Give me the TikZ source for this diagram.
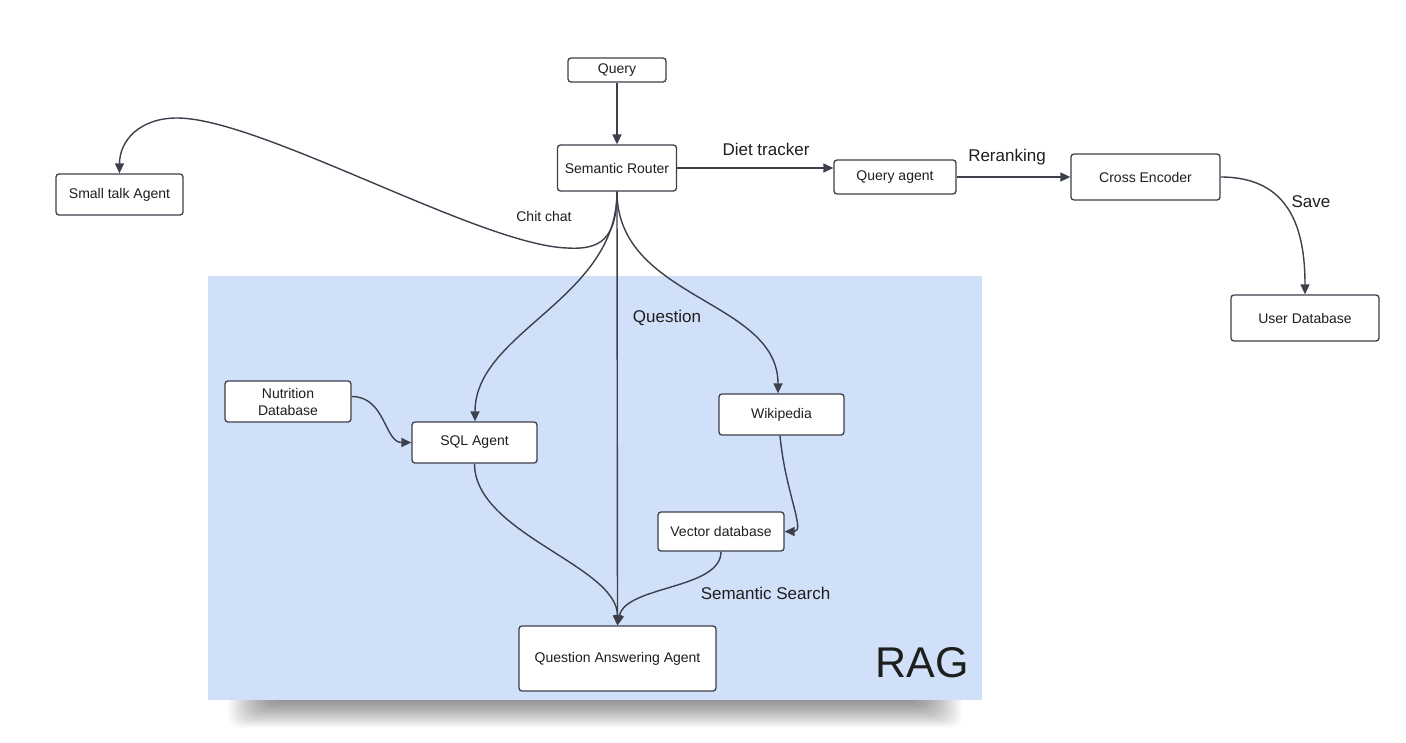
\documentclass[tikz,border=0pt]{standalone}
\usepackage{fontspec}
\setmainfont{Liberation Sans}
\usetikzlibrary{arrows.meta}
\definecolor{linec}{RGB}{60,64,74}
\definecolor{ragblue}{RGB}{208,224,248}
\definecolor{txt}{RGB}{30,30,30}
\tikzset{
  box/.style={draw=linec, line width=1.3pt, rounded corners=3pt, fill=white, inner sep=0pt,
    text=txt, font=\fontsize{14}{17}\selectfont, align=center},
  conn/.style={draw=linec, line width=1.4pt, -{Triangle[length=10pt,width=9pt]}},
  lbl/.style={text=txt, font=\fontsize{17}{20}\selectfont, inner sep=0pt},
  lblsmall/.style={text=txt, font=\fontsize{14}{17}\selectfont, inner sep=0pt},
  shadowlayer/.style={fill=black, opacity=0.022, rounded corners=12pt}
}
\begin{document}
\begin{tikzpicture}[x=1pt,y=-1pt]
\useasboundingbox (0,0) rectangle (1406,742);
\fill[white] (0,0) rectangle (1406,742);
% soft shadow below the RAG region
\foreach \i in {1,...,20}{
  \fill[shadowlayer] (226+2.2*\i,680) rectangle (964-2.2*\i,729-1.35*\i);
}
\fill[ragblue] (208,276) rectangle (982,700);
\node[text=txt, font=\fontsize{43}{50}\selectfont, inner sep=0pt] (rag) at (922,663) {RAG};

% nodes
\node[box, minimum width=98pt, minimum height=24pt] (query) at (617,70) {Query};
\node[box, minimum width=119pt, minimum height=46pt] (router) at (617,168) {Semantic Router};
\node[box, minimum width=127pt, minimum height=41pt] (small) at (119.5,194.5) {Small talk Agent};
\node[box, minimum width=122pt, minimum height=34pt] (qagent) at (895,177) {Query agent};
\node[box, minimum width=149pt, minimum height=46pt] (cross) at (1145.5,177) {Cross Encoder};
\node[box, minimum width=148pt, minimum height=46pt] (userdb) at (1305,318) {User Database};
\node[box, minimum width=126pt, minimum height=41pt] (nutri) at (288,401.5) {Nutrition\\Database};
\node[box, minimum width=125pt, minimum height=41pt] (sql) at (474.5,442.5) {SQL Agent};
\node[box, minimum width=125pt, minimum height=41pt] (wiki) at (781.5,414.5) {Wikipedia};
\node[box, minimum width=126pt, minimum height=39pt] (vec) at (721,531.5) {Vector database};
\node[box, minimum width=197pt, minimum height=65pt] (qaa) at (617.5,658.5) {Question Answering Agent};

% helper coordinates
\coordinate (rb) at (router.south);
\coordinate (sqltop) at ([xshift=0.5pt]sql.north);
\coordinate (wikitop) at ([xshift=-3.5pt]wiki.north);
\coordinate (wikibot) at ([xshift=-1.5pt]wiki.south);
\coordinate (qatop) at (qaa.north);

% connectors
\draw[conn] (query) -- (router);
\draw[conn] (router.east) -- (router.east -| qagent.west);
\draw[conn] (qagent) -- (cross);
\draw[conn] (cross.east) .. controls +(70,0) and (1305,230) .. (userdb.north);
\draw[conn] (rb) .. controls +(0,48) and +(33,2) .. (567,248)
  .. controls +(-87,-3) and +(83,0) .. (177,118)
  .. controls +(-37,0) and +(0,-33) .. (small.north);
\draw[conn] (rb) .. controls +(0,108) and +(0,-90) .. (sqltop);
\draw[conn] (rb) -- (qatop);
\draw[conn] (rb) .. controls +(0,108) and +(0,-94) .. (wikitop);
\draw[conn] ([yshift=5pt]nutri.east) .. controls +(34,0) and +(-27,0) .. (sql.west);
\draw[conn] (sql.south) .. controls +(0,70) and +(0,-60) .. (qatop);
\draw[conn] (wikibot) .. controls +(5,55) and +(21,0) .. (vec.east);
\draw[conn] (vec.south) .. controls +(0,38) and +(8,-40) .. (qatop);

% labels
\node[lbl] (ldiet) at (766,149) {Diet tracker};
\node[lbl] (lrerank) at (1007,157) {Reranking};
\node[lbl] (lsave) at (1311,202) {Save};
\node[lblsmall] (lchit) at (544,216) {Chit chat};
\node[lbl] (lquestion) at (667,317.5) {Question};
\node[lbl] (lsearch) at (765.5,593) {Semantic Search};
\end{tikzpicture}
\end{document}
